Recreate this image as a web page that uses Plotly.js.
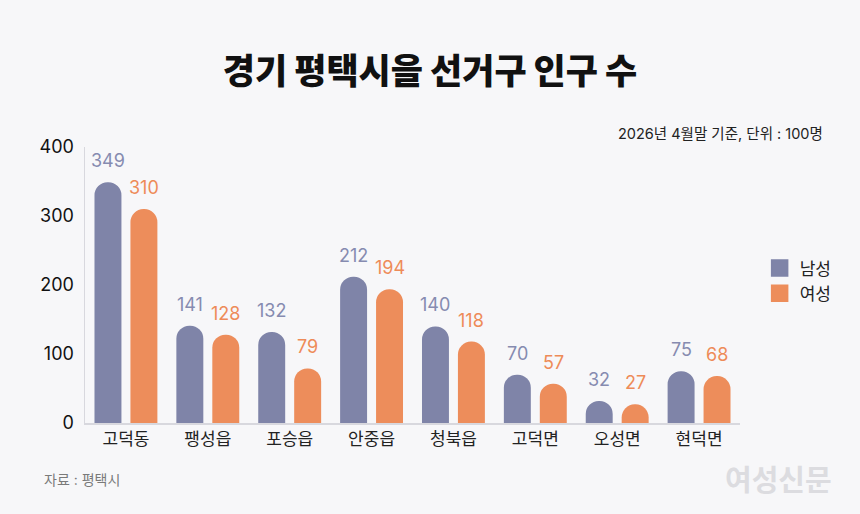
<!DOCTYPE html>
<html>
<head>
<meta charset="utf-8">
<script src="https://cdn.plot.ly/plotly-3.0.1.min.js"></script>
<style>
  html, body { margin: 0; padding: 0; background: #f7f7f9; }
  #chart { width: 860px; height: 514px; }
</style>
</head>
<body>
<div id="chart"></div>
<script>
var regions = ['고덕동', '팽성읍', '포승읍', '안중읍', '청북읍', '고덕면', '오성면', '현덕면'];
var male = [349, 141, 132, 212, 140, 70, 32, 75];
var female = [310, 128, 79, 194, 118, 57, 27, 68];
var yTicks = [0, 100, 200, 300, 400];

var FONT = "Inter, 'Noto Sans CJK KR', sans-serif";
var maleColor = '#7f84a8';
var femaleColor = '#ed8d5b';

var traceMale = {
  x: regions,
  y: male,
  name: '남성',
  type: 'bar',
  marker: { color: maleColor, cornerradius: 13 },
  showlegend: false,
  hoverinfo: 'none'
};
var traceFemale = {
  x: regions,
  y: female,
  name: '여성',
  type: 'bar',
  marker: { color: femaleColor, cornerradius: 13 },
  showlegend: false,
  hoverinfo: 'none'
};

// legend-only entries so the swatches can be bigger than the bar default
function legendEntry(name, color) {
  return {
    x: [null], y: [null],
    name: name,
    type: 'scatter',
    mode: 'markers',
    marker: { symbol: 'square', size: 16, color: color, line: { width: 1.5, color: color } },
    hoverinfo: 'none'
  };
}

// value labels above each bar
var annotations = [];
for (let i = 0; i < regions.length; i++) {
  annotations.push({
    x: regions[i], y: male[i], xref: 'x', yref: 'y',
    text: String(male[i]), showarrow: false,
    xshift: -18, yshift: 9, yanchor: 'bottom',
    font: { family: FONT, size: 18, color: '#868bb0' }
  });
  annotations.push({
    x: regions[i], y: female[i], xref: 'x', yref: 'y',
    text: String(female[i]), showarrow: false,
    xshift: 18, yshift: 9, yanchor: 'bottom',
    font: { family: FONT, size: 18, color: '#ee8b58' }
  });
}

annotations.push({
  xref: 'paper', yref: 'paper', x: 1.13, y: 1.0, yshift: 14,
  xanchor: 'right', yanchor: 'middle', showarrow: false,
  text: '2026년 4월말 기준, 단위 : 100명',
  font: { family: FONT, size: 14.5, color: '#222222' }
});
annotations.push({
  xref: 'paper', yref: 'paper', x: -0.066, y: 0, yshift: -56,
  xanchor: 'left', yanchor: 'middle', showarrow: false,
  text: '자료 : 평택시',
  font: { family: FONT, size: 14, color: '#7a7a7a' }
});
annotations.push({
  xref: 'paper', yref: 'paper', x: 1.143, y: 0, yshift: -57,
  xanchor: 'right', yanchor: 'middle', showarrow: false,
  text: '여성신문',
  font: { family: FONT, size: 29, color: '#dcdce0', weight: 700 }
});

var layout = {
  width: 860,
  height: 514,
  paper_bgcolor: '#f7f7f9',
  plot_bgcolor: '#f7f7f9',
  margin: { l: 85, r: 120, t: 147, b: 91 },
  title: {
    text: '경기 평택시을 선거구 인구 수',
    x: 0.5, xref: 'container', xanchor: 'center',
    y: 1 - 72 / 514, yref: 'container', yanchor: 'middle',
    font: { family: FONT, size: 35, color: '#111111', weight: 900 }
  },
  barmode: 'group',
  bargap: 0.122,
  bargroupgap: 0.25,
  showlegend: true,
  legend: {
    x: 1.03, xanchor: 'left', y: 0.625, yanchor: 'top',
    font: { family: FONT, size: 17, color: '#222222' },
    bgcolor: 'rgba(0,0,0,0)',
    itemsizing: 'trace',
    itemwidth: 30,
    tracegroupgap: 7
  },
  xaxis: {
    showgrid: false,
    zeroline: false,
    showline: true,
    linecolor: '#d8d8de',
    linewidth: 1.5,
    ticks: '',
    tickfont: { family: FONT, size: 17, color: '#222222' },
    fixedrange: true
  },
  yaxis: {
    range: [0, 400],
    tickvals: yTicks,
    showgrid: false,
    zeroline: false,
    showline: true,
    linecolor: '#d8d8de',
    linewidth: 1.5,
    ticks: '',
    ticklabelstandoff: 6,
    tickfont: { family: FONT, size: 18, color: '#111111' },
    fixedrange: true
  },
  annotations: annotations
};

Plotly.newPlot('chart', [traceMale, traceFemale, legendEntry('남성', maleColor), legendEntry('여성', femaleColor)],
  layout, { displayModeBar: false, staticPlot: true });
</script>
</body>
</html>
